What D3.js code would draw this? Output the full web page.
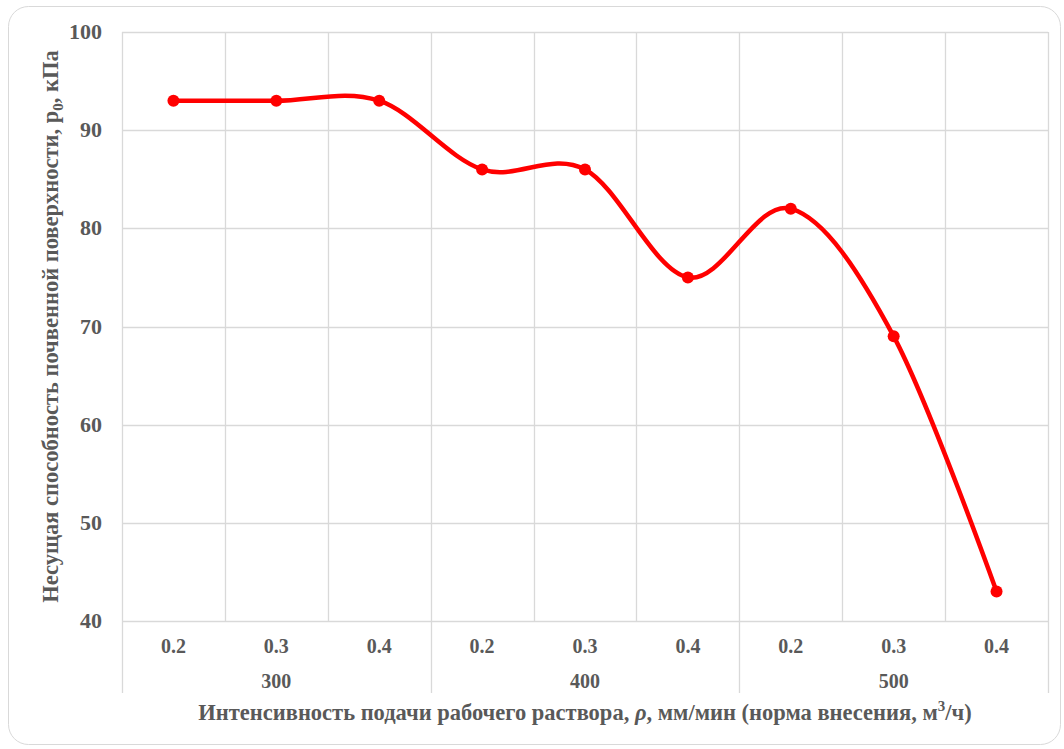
<!DOCTYPE html>
<html>
<head>
<meta charset="utf-8">
<script src="https://cdn.jsdelivr.net/npm/d3@7"></script>
<style>
  body { margin: 0; background: #fff; }
  svg text { font-family: "Liberation Serif", "Times New Roman", serif; font-weight: bold; fill: #595959; }
</style>
</head>
<body>
<div id="chart"></div>
<script>
// Данные
const groups = ["300", "400", "500"];
const rates = ["0.2", "0.3", "0.4"];
const values = [93, 93, 93, 86, 86, 75, 82, 69, 43];
const yTicks = [40, 50, 60, 70, 80, 90, 100];

const width = 1064, height = 749;
const margin = { left: 122, right: 16, top: 32, bottom: 128 };

const cats = [];
groups.forEach(g => rates.forEach(r => cats.push({ g, r, key: g + "_" + r })));

const svg = d3.select("#chart").append("svg")
    .attr("width", width)
    .attr("height", height);

// рамка
svg.append("rect")
    .attr("x", 8.5).attr("y", 6.5)
    .attr("width", 1052).attr("height", 738)
    .attr("rx", 20).attr("ry", 20)
    .attr("fill", "#fff")
    .attr("stroke", "#d9d9d9")
    .attr("stroke-width", 1);

const x = d3.scaleBand()
    .domain(cats.map(d => d.key))
    .range([margin.left, width - margin.right])
    .padding(0);

const y = d3.scaleLinear()
    .domain([40, 100])
    .range([height - margin.bottom, margin.top]);

const plotBottom = y(40);

// горизонтальная сетка
svg.append("g").selectAll("line")
    .data(yTicks)
    .enter().append("line")
    .attr("x1", margin.left)
    .attr("x2", width - margin.right)
    .attr("y1", d => Math.round(y(d)) + 0.5)
    .attr("y2", d => Math.round(y(d)) + 0.5)
    .attr("stroke", "#d9d9d9")
    .attr("stroke-width", 1.3);

// вертикальная сетка по границам категорий
const bounds = cats.map(d => x(d.key)).concat([x.range()[1]]);
svg.append("g").selectAll("line")
    .data(bounds)
    .enter().append("line")
    .attr("x1", d => Math.round(d) + 0.5)
    .attr("x2", d => Math.round(d) + 0.5)
    .attr("y1", margin.top)
    .attr("y2", (d, i) => i % 3 === 0 ? plotBottom + 72 : plotBottom)
    .attr("stroke", "#d9d9d9")
    .attr("stroke-width", 1.3);

// подписи оси Y
svg.append("g").selectAll("text")
    .data(yTicks)
    .enter().append("text")
    .attr("x", margin.left - 20)
    .attr("y", d => y(d) + 7)
    .attr("text-anchor", "end")
    .attr("font-size", 22)
    .text(d => d);

// подписи категорий
svg.append("g").selectAll("text")
    .data(cats)
    .enter().append("text")
    .attr("x", d => x(d.key) + x.bandwidth() / 2)
    .attr("y", plotBottom + 32)
    .attr("text-anchor", "middle")
    .attr("font-size", 20)
    .text(d => d.r);

svg.append("g").selectAll("text")
    .data(groups)
    .enter().append("text")
    .attr("x", g => x(g + "_0.3") + x.bandwidth() / 2)
    .attr("y", plotBottom + 67)
    .attr("text-anchor", "middle")
    .attr("font-size", 20)
    .text(g => g);

// линия
const pts = cats.map((d, i) => ({ key: d.key, v: values[i] }));
svg.append("path")
    .datum(pts)
    .attr("fill", "none")
    .attr("stroke", "#ff0000")
    .attr("stroke-width", 4.5)
    .attr("stroke-linejoin", "round")
    .attr("d", d3.line()
        .x(d => x(d.key) + x.bandwidth() / 2)
        .y(d => y(d.v))
        .curve(d3.curveCardinal.tension(0)));

svg.append("g").selectAll("circle")
    .data(pts)
    .enter().append("circle")
    .attr("cx", d => x(d.key) + x.bandwidth() / 2)
    .attr("cy", d => y(d.v))
    .attr("r", 6)
    .attr("fill", "#ff0000");

// заголовок оси X
const xt = svg.append("text")
    .attr("x", (margin.left + width - margin.right) / 2)
    .attr("y", 720)
    .attr("text-anchor", "middle")
    .attr("font-size", 22.5);
xt.append("tspan").text("Интенсивность подачи рабочего раствора, ");
xt.append("tspan").attr("font-style", "italic").text("ρ");
xt.append("tspan").text(", мм/мин (норма внесения, м");
xt.append("tspan").attr("dy", -9).attr("font-size", 15).text("3");
xt.append("tspan").attr("dy", 9).text("/ч)");

// заголовок оси Y
const yt = svg.append("text")
    .attr("transform", `translate(58, ${(margin.top + plotBottom) / 2}) rotate(-90)`)
    .attr("text-anchor", "middle")
    .attr("font-size", 22.5);
yt.append("tspan").text("Несущая способность почвенной поверхности, р");
yt.append("tspan").attr("dy", 5).attr("font-size", 15).text("0");
yt.append("tspan").attr("dy", -5).text(", кПа");
</script>
</body>
</html>
